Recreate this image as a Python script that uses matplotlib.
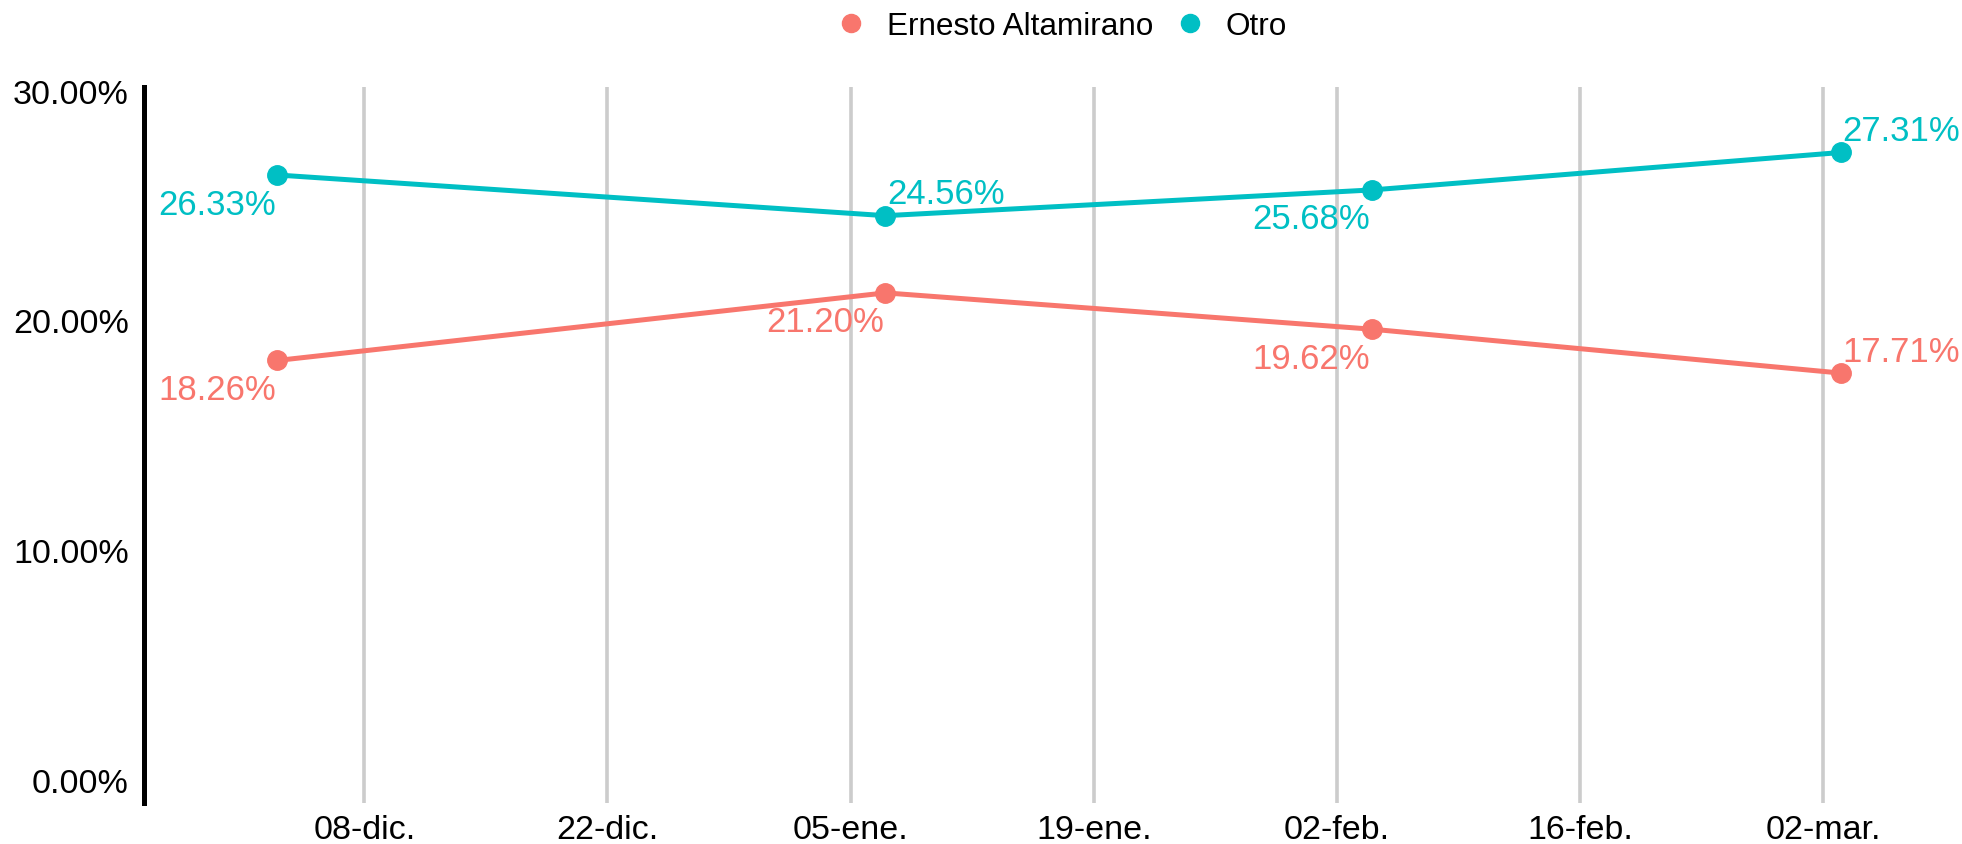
import matplotlib
matplotlib.use("Agg")
import matplotlib.pyplot as plt
import matplotlib.dates as mdates
import numpy as np
from datetime import datetime

plt.rcParams['font.family'] = ['Liberation Sans', 'DejaVu Sans']

# datos
fechas = [datetime(2025, 12, 3), datetime(2026, 1, 7), datetime(2026, 2, 4), datetime(2026, 3, 3)]
ernesto = [18.26, 21.20, 19.62, 17.71]
otro = [26.33, 24.56, 25.68, 27.31]
series = ['Ernesto Altamirano', 'Otro']
colores = ['#F8766D', '#00BFC4']

# posicion de cada etiqueta: 'ab' = abajo-izquierda, 'ar' = arriba-derecha
pos_ernesto = ['ab', 'ab', 'ab', 'ar']
pos_otro = ['ab', 'ar', 'ab', 'ar']

tick_fechas = [datetime(2025, 12, 8), datetime(2025, 12, 22), datetime(2026, 1, 5),
               datetime(2026, 1, 19), datetime(2026, 2, 2), datetime(2026, 2, 16),
               datetime(2026, 3, 2)]
tick_labels = ['08-dic.', '22-dic.', '05-ene.', '19-ene.', '02-feb.', '16-feb.', '02-mar.']
y_ticks = [0, 10, 20, 30]

W, H = 1962, 845
fig = plt.figure(figsize=(W / 100, H / 100), dpi=100)
ax = fig.add_axes([144 / W, 1 - 804 / H, (W - 144) / W, (804 - 88) / H])

x = mdates.date2num(fechas)
for vals, pos, col, nombre in [(ernesto, pos_ernesto, colores[0], series[0]),
                               (otro, pos_otro, colores[1], series[1])]:
    ax.plot(x, vals, '-', color=col, linewidth=3.6, zorder=3)
    ax.plot(x, vals, 'o', color=col, markersize=14, zorder=4, label=nombre)
    for xi, v, p in zip(x, vals, pos):
        txt = f"{v:.2f}%"
        if p == 'ab':
            ax.annotate(txt, (xi, v), xytext=(-1, -9), textcoords='offset points',
                        ha='right', va='top', color=col, fontsize=25, clip_on=False, zorder=5)
        else:
            ax.annotate(txt, (xi, v), xytext=(1, 4), textcoords='offset points',
                        ha='left', va='bottom', color=col, fontsize=25, clip_on=False, zorder=5)

# limites (en dias)
x0 = mdates.date2num(datetime(2025, 12, 8))
px_dia = 17.371
ax.set_xlim(x0 - (364.3 - 144) / px_dia, x0 + (W - 364.3) / px_dia)
ax.set_ylim(-1.0, 30.16)

ax.set_xticks(mdates.date2num(tick_fechas))
ax.set_xticklabels(tick_labels)
ax.set_yticks(y_ticks)
ax.set_yticklabels([f"{t:.2f}%" for t in y_ticks])
ax.tick_params(axis='both', length=0, labelsize=24.5, colors='black')
ax.tick_params(axis='x', pad=8)
ax.tick_params(axis='y', pad=11)

ax.grid(axis='x', color='#CCCCCC', linewidth=2.6)
ax.grid(axis='y', visible=False)
ax.set_axisbelow(True)
for s in ['top', 'right', 'bottom']:
    ax.spines[s].set_visible(False)
ax.spines['left'].set_linewidth(3.6)
ax.spines['left'].set_color('black')

fig.legend(loc='center', bbox_to_anchor=(1064.5 / W, 1 - 27 / H), ncol=2, frameon=False,
           fontsize=22.7, handlelength=0.6, handletextpad=0.83, columnspacing=0.86,
           markerscale=0.93)

fig.savefig('out.png', dpi=100)
